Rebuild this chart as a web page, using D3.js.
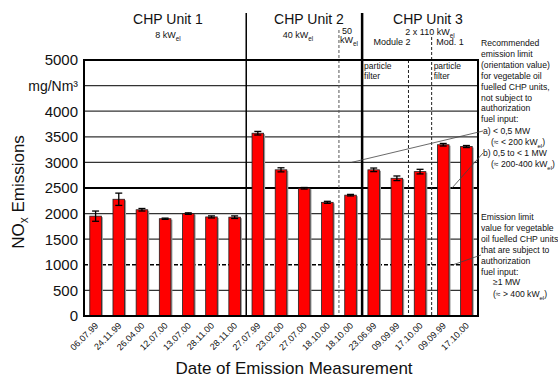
<!DOCTYPE html>
<html>
<head>
<meta charset="utf-8">
<script src="https://cdn.jsdelivr.net/npm/d3@7"></script>
<style>
  body { margin: 0; background: #fff; }
  text { font-family: Arial, "Liberation Sans", sans-serif; fill: #111; }
</style>
</head>
<body>
<div class="chart"></div>
<script>
// measurement dates (x categories)
var dates = ["06.07.99", "24.11.99", "26.04.00", "12.07.00", "13.07.00", "28.11.00", "28.11.00",
             "27.07.99", "23.02.00", "27.07.00", "18.10.00", "18.10.00",
             "23.06.99", "09.09.99", "17.10.00", "09.09.99", "17.10.00"];
// NOx emissions, mg/Nm3
var nox = [1950, 2280, 2075, 1900, 2000, 1935, 1930,
           3570, 2855, 2495, 2220, 2360,
           2855, 2690, 2820, 3345, 3310];
// +/- error
var errs = [100, 120, 25, 12, 15, 20, 25,
            35, 40, 15, 20, 15,
            35, 45, 45, 25, 20];
var yTicks = [0, 500, 1000, 1500, 2000, 2500, 3000, 3500, 4000, 4500, 5000];
var limitA = 3000, limitB = 2500, limitC = 1000;

var W = 558, H = 379;
var plotL = 84, plotR = 478, plotT = 60, plotB = 316;

var svg = d3.select(".chart").append("svg")
    .attr("width", W).attr("height", H);

var x = d3.scaleBand()
    .domain(d3.range(dates.length))
    .range([plotL, plotR])
    .paddingInner(0.5)
    .paddingOuter(0.25);

var y = d3.scaleLinear()
    .domain([0, 5000])
    .range([plotB, plotT]);

var step = x.step();
function edge(i) { return x(i) - step * 0.25; }

// grid lines
svg.append("g")
    .selectAll("line")
    .data(yTicks.filter(function (d) { return d > 0 && d < 5000; }))
    .enter().append("line")
    .attr("x1", plotL).attr("x2", plotR)
    .attr("y1", function (d) { return y(d); })
    .attr("y2", function (d) { return y(d); })
    .attr("stroke", function (d) { return d == limitB || d == limitC ? "#000" : "#333"; })
    .attr("stroke-width", function (d) { return d == limitB ? 2 : (d == limitC ? 1.5 : 1.2); })
    .attr("stroke-dasharray", function (d) { return d == limitC ? "4,2" : null; });

// section separators
svg.append("line").attr("x1", edge(7)).attr("x2", edge(7)).attr("y1", 13).attr("y2", plotB)
    .attr("stroke", "#000").attr("stroke-width", 1.5);
svg.append("line").attr("x1", edge(12)).attr("x2", edge(12)).attr("y1", 13).attr("y2", plotB)
    .attr("stroke", "#000").attr("stroke-width", 2.5);
svg.append("line").attr("x1", edge(11)).attr("x2", edge(11)).attr("y1", 30).attr("y2", plotB)
    .attr("stroke", "#555").attr("stroke-width", 1).attr("stroke-dasharray", "3,2");
svg.append("line").attr("x1", edge(14)).attr("x2", edge(14)).attr("y1", plotT).attr("y2", plotB)
    .attr("stroke", "#222").attr("stroke-width", 1).attr("stroke-dasharray", "3,2");
svg.append("line").attr("x1", edge(15)).attr("x2", edge(15)).attr("y1", 37).attr("y2", plotB)
    .attr("stroke", "#222").attr("stroke-width", 1).attr("stroke-dasharray", "3,2");

// bars
var bars = svg.append("g");
bars.selectAll(".shadow")
    .data(nox)
    .enter().append("rect")
    .attr("class", "shadow")
    .attr("x", function (d, i) { return x(i) + 1.5; })
    .attr("y", function (d) { return y(d) + 1; })
    .attr("width", x.bandwidth())
    .attr("height", function (d) { return plotB - y(d) - 1; })
    .attr("fill", "#9a9a9a");
bars.selectAll(".bar")
    .data(nox)
    .enter().append("rect")
    .attr("class", "bar")
    .attr("x", function (d, i) { return x(i); })
    .attr("y", function (d) { return y(d); })
    .attr("width", x.bandwidth())
    .attr("height", function (d) { return plotB - y(d); })
    .attr("fill", "#ff0000")
    .attr("stroke", "#222")
    .attr("stroke-width", 0.8);

// error bars
var eb = svg.append("g").attr("stroke", "#000").attr("stroke-width", 1.3);
nox.forEach(function (d, i) {
    var cx = x(i) + x.bandwidth() / 2;
    eb.append("line").attr("x1", cx).attr("x2", cx).attr("y1", y(d + errs[i])).attr("y2", y(d - errs[i]));
    eb.append("line").attr("x1", cx - 3.5).attr("x2", cx + 3.5).attr("y1", y(d + errs[i])).attr("y2", y(d + errs[i]));
    eb.append("line").attr("x1", cx - 3.5).attr("x2", cx + 3.5).attr("y1", y(d - errs[i])).attr("y2", y(d - errs[i]));
});

// frame
svg.append("rect").attr("x", plotL).attr("y", plotT).attr("width", plotR - plotL).attr("height", plotB - plotT)
    .attr("fill", "none").attr("stroke", "#000").attr("stroke-width", 2);

// y axis labels
var yAxis = svg.append("g")
    .attr("transform", "translate(" + plotL + ",0)")
    .call(d3.axisLeft(y).tickValues(yTicks).tickSize(0).tickPadding(6)
        .tickFormat(function (d) { return d == 4500 ? "mg/Nm³" : d; }));
yAxis.select(".domain").remove();
yAxis.selectAll("text")
    .style("font-family", "Arial, 'Liberation Sans', sans-serif")
    .style("font-size", function (d) { return d == 4500 ? "14px" : "15px"; })
    .attr("fill", "#111");

// x axis labels
svg.append("g").selectAll("text")
    .data(dates)
    .enter().append("text")
    .attr("transform", function (d, i) {
        return "translate(" + (x(i) + x.bandwidth() / 2 + 1) + "," + (plotB + 8) + ") rotate(-45)";
    })
    .attr("text-anchor", "end")
    .attr("dy", "0.35em")
    .style("font-size", "9px")
    .text(function (d) { return d; });

// axis titles
var yt = svg.append("text")
    .attr("transform", "translate(24,192) rotate(-90)")
    .attr("text-anchor", "middle")
    .style("font-size", "17px");
yt.append("tspan").text("NO");
yt.append("tspan").attr("dy", 4).style("font-size", "12px").text("x");
yt.append("tspan").attr("dy", -4).text(" Emissions");

svg.append("text")
    .attr("x", 294).attr("y", 374)
    .attr("text-anchor", "middle")
    .style("font-size", "17px")
    .text("Date of Emission Measurement");

// header labels
function sub(sel, main, s, size) {
    sel.append("tspan").text(main);
    sel.append("tspan").attr("dy", 3).style("font-size", (size * 0.7) + "px").text(s);
    return sel;
}
function hdr(tx, ty, txt, size) {
    return svg.append("text").attr("x", tx).attr("y", ty).attr("text-anchor", "middle")
        .style("font-size", size + "px").text(txt);
}
hdr(168, 24, "CHP Unit 1", 14);
hdr(309, 24, "CHP Unit 2", 14);
hdr(428, 24, "CHP Unit 3", 14);
sub(svg.append("text").attr("x", 168).attr("y", 38).attr("text-anchor", "middle").style("font-size", "9px"), "8 kW", "el", 9);
sub(svg.append("text").attr("x", 298).attr("y", 38).attr("text-anchor", "middle").style("font-size", "9px"), "40 kW", "el", 9);
svg.append("text").attr("x", 342).attr("y", 34).style("font-size", "9px").text("50");
sub(svg.append("text").attr("x", 340).attr("y", 43).style("font-size", "9px"), "kW", "el", 9);
sub(svg.append("text").attr("x", 430).attr("y", 35).attr("text-anchor", "middle").style("font-size", "9px"), "2 x 110 kW", "el", 9);
hdr(392, 45, "Module 2", 9);
hdr(450, 45, "Mod. 1", 9);

// particle filter notes
[edge(12), edge(15)].forEach(function (px) {
    svg.append("text").attr("x", px + 2).attr("y", 69).style("font-size", "8.5px").text("particle");
    svg.append("text").attr("x", px + 2).attr("y", 78.5).style("font-size", "8.5px").text("filter");
});

// right annotations
var noteA = ["Recommended", "emission limit", "(orientation value)", "for vegetable oil",
             "fuelled CHP units,", "not subject to", "authorization", "fuel input:"];
var notes = svg.append("g").style("font-size", "8.6px");
noteA.forEach(function (t, i) {
    notes.append("text").attr("x", 481).attr("y", 46 + i * 10.9).text(t);
});
notes.append("text").attr("x", 483).attr("y", 134).text("a) < 0,5 MW");
sub(notes.append("text").attr("x", 491).attr("y", 144.5), "(≈ < 200 kW", "el", 8.6).append("tspan").attr("dy", -3).text(")");
notes.append("text").attr("x", 483).attr("y", 156).text("b) 0,5 to < 1 MW");
sub(notes.append("text").attr("x", 491).attr("y", 167), "(≈ 200-400 kW", "el", 8.6).append("tspan").attr("dy", -3).text(")");

var noteC = ["Emission limit", "value for vegetable", "oil fuelled CHP units", "that are subject to",
             "authorization", "fuel input:"];
noteC.forEach(function (t, i) {
    notes.append("text").attr("x", 481).attr("y", 220 + i * 10.9).text(t);
});
notes.append("text").attr("x", 493).attr("y", 285).text("≥1 MW");
sub(notes.append("text").attr("x", 493).attr("y", 296.5), "(≈ > 400 kW", "el", 8.6).append("tspan").attr("dy", -3).text(")");

// leader lines
var leaders = svg.append("g").attr("stroke", "#444").attr("stroke-width", 0.8);
leaders.append("line").attr("x1", 483).attr("y1", 131).attr("x2", 351.5).attr("y2", y(limitA));
leaders.append("line").attr("x1", 483).attr("y1", 153).attr("x2", 452).attr("y2", y(limitB));
leaders.append("line").attr("x1", 481).attr("y1", 255).attr("x2", 453).attr("y2", y(limitC));
</script>
</body>
</html>
